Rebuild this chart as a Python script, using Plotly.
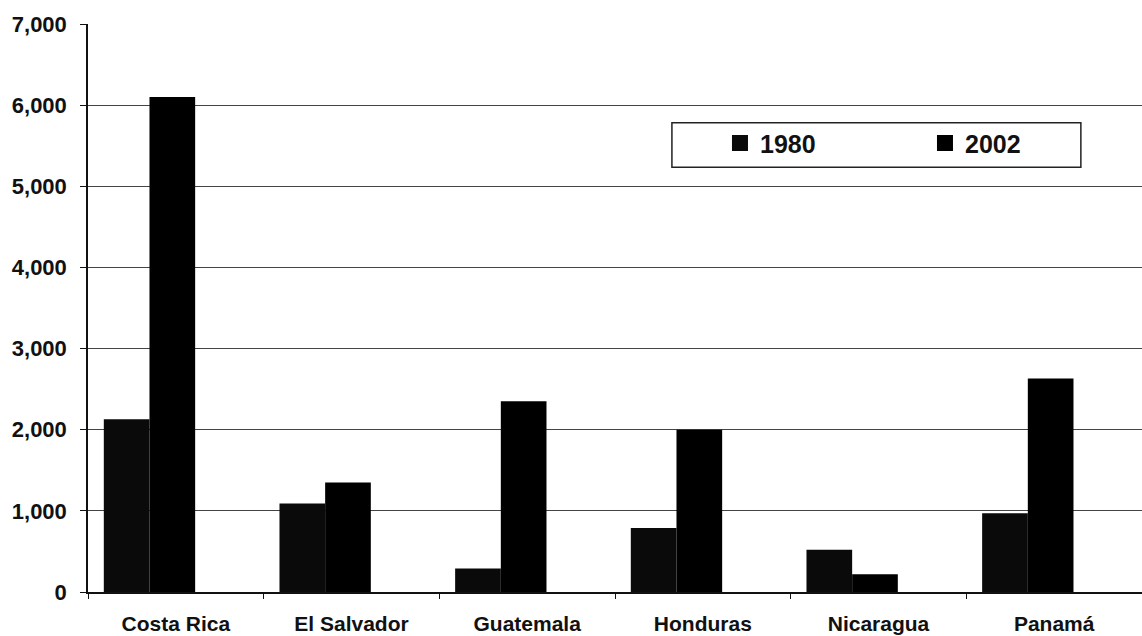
import plotly.graph_objects as go

countries = ["Costa Rica", "El Salvador", "Guatemala", "Honduras", "Nicaragua", "Panamá"]
v1980 = [2130, 1090, 290, 790, 520, 970]
v2002 = [6100, 1350, 2350, 2000, 220, 2630]
series_names = ["1980", "2002"]
series_colors = ["#0a0a0a", "#000000"]
y_ticks = [0, 1000, 2000, 3000, 4000, 5000, 6000, 7000]
y_labels = ["0", "1,000", "2,000", "3,000", "4,000", "5,000", "6,000", "7,000"]

font_family = "Liberation Sans, Arial, sans-serif"
BAR_W = 0.26
SHIFT = -0.15

fig = go.Figure()
for i, vals in enumerate([v1980, v2002]):
    fig.add_trace(go.Bar(
        x=countries, y=vals, name=series_names[i], showlegend=False,
        width=BAR_W, offset=SHIFT - BAR_W + i * BAR_W,
        marker=dict(color=series_colors[i], line=dict(width=0)),
    ))
# legend entries (larger square swatches)
for i in range(2):
    fig.add_trace(go.Scatter(
        x=[None], y=[None], mode="markers", name=series_names[i],
        marker=dict(symbol="square", size=16, color=series_colors[i]),
        showlegend=True,
    ))

fig.update_layout(
    width=1142, height=636,
    margin=dict(l=88, r=0, t=24, b=44, autoexpand=False),
    paper_bgcolor="white", plot_bgcolor="white",
    barmode="overlay",
    showlegend=True,
    legend=dict(
        orientation="h", x=0.5996, y=0.790, xanchor="left", yanchor="middle",
        bgcolor="rgba(0,0,0,0)", borderwidth=0,
        font=dict(family=font_family, size=25, color="#111", weight="bold"),
        itemwidth=30, entrywidth=160, traceorder="normal",
    ),
    font=dict(family=font_family, color="#111"),
    shapes=[dict(type="rect", xref="paper", yref="paper",
                 x0=0.554, x1=0.942, y0=0.748, y1=0.826,
                 line=dict(color="#222", width=1.5), fillcolor="white", layer="below")],
)
fig.update_yaxes(
    range=[0, 7000], tickvals=y_ticks, ticktext=y_labels,
    showgrid=True, gridcolor="#444", gridwidth=1,
    showline=True, linecolor="#111", linewidth=1.5,
    ticks="outside", ticklen=6, tickcolor="#111",
    tickfont=dict(family=font_family, size=22, color="#111", weight="bold"),
    ticklabelstandoff=9, zeroline=False, layer="below traces",
)
fig.update_xaxes(
    showline=True, linecolor="#111", linewidth=1.5,
    ticks="outside", ticklen=5, tickcolor="#111", tickson="boundaries",
    tickfont=dict(family=font_family, size=21, color="#111", weight="bold"),
    ticklabelstandoff=12,
)

fig.write_html(
    "out.html",
    config={"displayModeBar": False},
    post_script="document.body.style.margin='0px';document.body.style.overflow='hidden';",
)
